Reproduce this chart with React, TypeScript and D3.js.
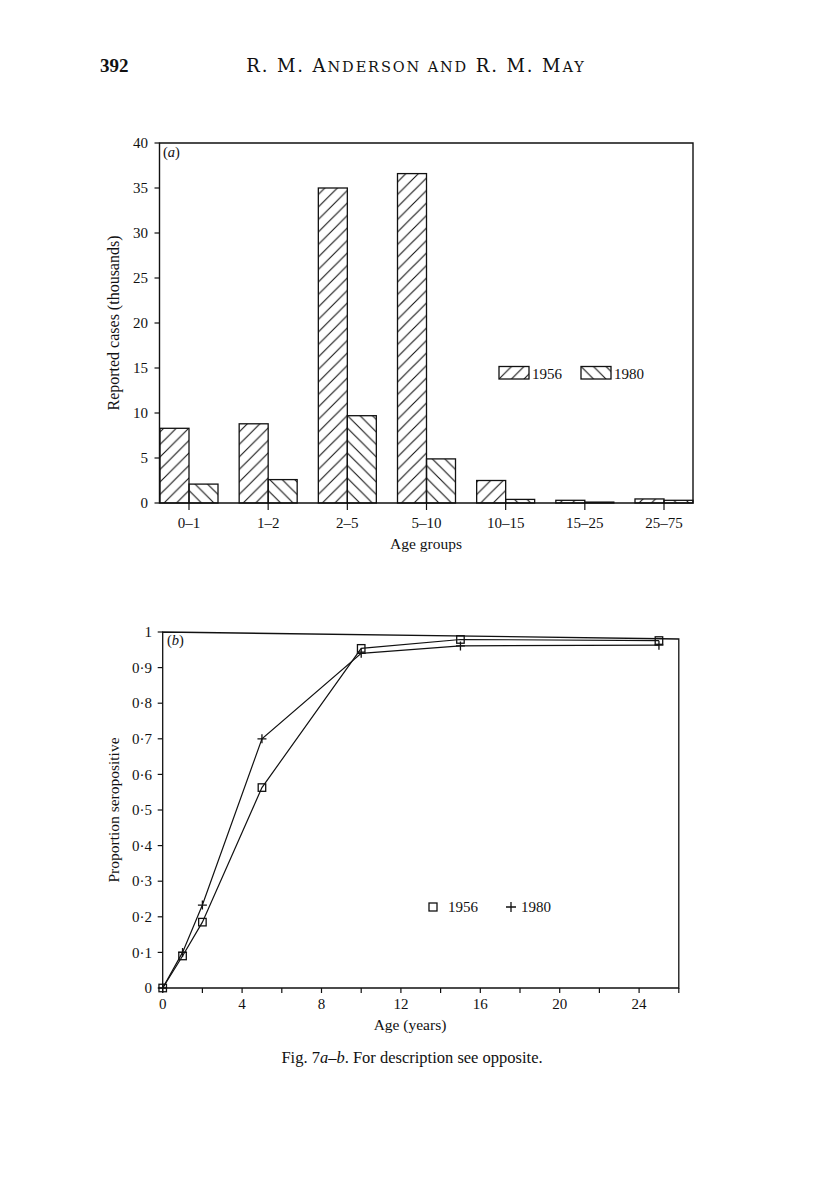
import React from "react";
import * as d3 from "d3";

// ---- Data: panel (a) ----
const ageGroups = ["0\u20131", "1\u20132", "2\u20135", "5\u201310", "10\u201315", "15\u201325", "25\u201375"];
const cases1956 = [8.3, 8.8, 35.0, 36.6, 2.5, 0.3, 0.45];
const cases1980 = [2.1, 2.6, 9.7, 4.9, 0.4, 0.1, 0.3];
const yTicksA = [0, 5, 10, 15, 20, 25, 30, 35, 40];

// ---- Data: panel (b) ----
const ages = [0, 1, 2, 5, 10, 15, 25];
const sero1956 = [0, 0.09, 0.185, 0.563, 0.954, 0.979, 0.976];
const sero1980 = [0, 0.1, 0.233, 0.7, 0.94, 0.961, 0.963];
const yTicksB = [0, 0.1, 0.2, 0.3, 0.4, 0.5, 0.6, 0.7, 0.8, 0.9, 1];
const xTicksB = [0, 2, 4, 6, 8, 10, 12, 14, 16, 18, 20, 22, 24, 26];
const xLabelsB = [0, 4, 8, 12, 16, 20, 24];

const FONT = "'Liberation Serif', 'DejaVu Serif', serif";
const HEAD_FONT = "'DejaVu Serif', 'Liberation Serif', serif";

export default function App() {
  // Panel (a) scales
  const barW = 29;
  const xA = d3.scalePoint<string>().domain(ageGroups).range([189, 664]);
  const yA = d3.scaleLinear().domain([0, 40]).range([503, 143]);
  const leftA = (xA(ageGroups[0]) as number) - barW - 0.5;
  const rightA = (xA(ageGroups[ageGroups.length - 1]) as number) + barW;

  // Panel (b) scales
  const xB = d3.scaleLinear().domain([0, 26]).range([162.7, 678.8]);
  const yB = d3.scaleLinear().domain([0, 1]).range([988, 632]);
  const line = d3
    .line<number>()
    .x((_, i) => xB(ages[i]))
    .y((d) => yB(d));

  const hatch = 12.5;
  const fmtB = (v: number) => (v === 0 ? "0" : v === 1 ? "1" : d3.format(".1f")(v).replace(".", "\u00b7"));

  const sq = 7.5;
  const pl = 4.5;
  const TK = 15;
  const LB = 15.5;

  const slash = `M-1,1 L1,-1 M0,${hatch} L${hatch},0 M${hatch - 1},${hatch + 1} L${hatch + 1},${hatch - 1}`;
  const back = `M0,0 L${hatch},${hatch} M-1,${hatch - 1} L1,${hatch + 1} M${hatch - 1},-1 L${hatch + 1},1`;

  return (
    <svg
      width={816}
      height={1191}
      style={{ position: "absolute", left: 0, top: 0, background: "#fff" }}
      fontFamily={FONT}
    >
      <rect x={0} y={0} width={816} height={1191} fill="#fff" />
      <defs>
        {ageGroups.map((g, i) => {
          const c = xA(g) as number;
          const y0 = yA(0);
          return (
            <React.Fragment key={g}>
              <pattern id={`p56-${i}`} width={hatch} height={hatch} patternUnits="userSpaceOnUse" patternTransform={`translate(${c},${y0})`}>
                <path d={slash} stroke="#111" strokeWidth={1.1} />
              </pattern>
              <pattern id={`p80-${i}`} width={hatch} height={hatch} patternUnits="userSpaceOnUse" patternTransform={`translate(${c},${y0})`}>
                <path d={back} stroke="#111" strokeWidth={1.1} />
              </pattern>
            </React.Fragment>
          );
        })}
        <pattern id="leg56" width={hatch} height={hatch} patternUnits="userSpaceOnUse" patternTransform="translate(499,379)">
          <path d={slash} stroke="#111" strokeWidth={1.1} />
        </pattern>
        <pattern id="leg80" width={hatch} height={hatch} patternUnits="userSpaceOnUse" patternTransform="translate(581,379)">
          <path d={back} stroke="#111" strokeWidth={1.1} />
        </pattern>
      </defs>

      {/* Header */}
      <text x={100} y={72} fontSize={19} fontWeight="bold" fill="#111">392</text>
      <text x={416} y={72} fontSize={18} textAnchor="middle" fill="#111" fontFamily={HEAD_FONT} letterSpacing={1.9}>
        R. M. A<tspan fontSize={14.5}>NDERSON AND</tspan> R. M. M<tspan fontSize={14.5}>AY</tspan>
      </text>

      {/* ===== Panel (a) ===== */}
      <g>
        {ageGroups.map((g, i) => {
          const c = xA(g) as number;
          return (
            <g key={g}>
              <rect
                x={c - barW}
                y={yA(cases1956[i])}
                width={barW}
                height={yA(0) - yA(cases1956[i])}
                fill={`url(#p56-${i})`}
                stroke="#111"
                strokeWidth={1.3}
              />
              <rect
                x={c}
                y={yA(cases1980[i])}
                width={barW}
                height={yA(0) - yA(cases1980[i])}
                fill={`url(#p80-${i})`}
                stroke="#111"
                strokeWidth={1.3}
              />
            </g>
          );
        })}
        <path
          d={`M${leftA},${yA(0)} L${leftA},${yA(40)} L${rightA},${yA(40)} L${rightA},${yA(0)} Z`}
          fill="none"
          stroke="#111"
          strokeWidth={1.4}
        />
        {yTicksA.map((t) => (
          <g key={t}>
            <line x1={leftA - 5} x2={leftA} y1={yA(t)} y2={yA(t)} stroke="#111" strokeWidth={1.2} />
            <text x={148} y={yA(t)} dy="0.35em" fontSize={TK} textAnchor="end" fill="#111">
              {t}
            </text>
          </g>
        ))}
        {ageGroups.map((g) => (
          <g key={g}>
            <line x1={xA(g)} x2={xA(g)} y1={yA(0)} y2={yA(0) + 7} stroke="#111" strokeWidth={1.2} />
            <text x={xA(g)} y={527.5} fontSize={TK} textAnchor="middle" fill="#111">
              {g}
            </text>
          </g>
        ))}
        <text x={426} y={548.5} fontSize={LB} textAnchor="middle" fill="#111">Age groups</text>
        <text
          transform={`translate(119,${(yA(0) + yA(40)) / 2}) rotate(-90)`}
          fontSize={16}
          textAnchor="middle"
          fill="#111"
        >
          Reported cases (thousands)
        </text>
        <text x={163} y={157} fontSize={14.5} fill="#111">
          (<tspan fontStyle="italic">a</tspan>)
        </text>
        <rect x={499} y={366.5} width={30} height={12.5} fill="url(#leg56)" stroke="#111" strokeWidth={1.3} />
        <text x={532} y={378.5} fontSize={TK} fill="#111">1956</text>
        <rect x={581} y={366.5} width={30} height={12.5} fill="url(#leg80)" stroke="#111" strokeWidth={1.3} />
        <text x={614} y={378.5} fontSize={TK} fill="#111">1980</text>
      </g>

      {/* ===== Panel (b) ===== */}
      <g>
        <path
          d={`M${xB(0)},${yB(0)} L${xB(0)},${yB(1)} L${xB(26)},${yB(1) + 7} L${xB(26)},${yB(0)} Z`}
          fill="none"
          stroke="#111"
          strokeWidth={1.3}
        />
        {yTicksB.map((t) => (
          <g key={t}>
            <line x1={xB(0) - 5} x2={xB(0)} y1={yB(t)} y2={yB(t)} stroke="#111" strokeWidth={1.2} />
            <text x={152} y={yB(t)} dy="0.35em" fontSize={TK} textAnchor="end" fill="#111">
              {fmtB(t)}
            </text>
          </g>
        ))}
        {xTicksB.map((t) => (
          <line key={t} x1={xB(t)} x2={xB(t)} y1={yB(0)} y2={yB(0) + 5} stroke="#111" strokeWidth={1.2} />
        ))}
        {xLabelsB.map((t) => (
          <text key={t} x={xB(t)} y={1009} fontSize={TK} textAnchor="middle" fill="#111">
            {t}
          </text>
        ))}
        <text x={410} y={1030} fontSize={LB} textAnchor="middle" fill="#111">Age (years)</text>
        <text
          transform={`translate(119,${(yB(0) + yB(1)) / 2}) rotate(-90)`}
          fontSize={15.5}
          textAnchor="middle"
          fill="#111"
        >
          Proportion seropositive
        </text>
        <text x={167} y={645} fontSize={14.5} fill="#111">
          (<tspan fontStyle="italic">b</tspan>)
        </text>

        <path d={line(sero1956) || ""} fill="none" stroke="#111" strokeWidth={1.2} />
        <path d={line(sero1980) || ""} fill="none" stroke="#111" strokeWidth={1.2} />
        {sero1956.map((v, i) => (
          <rect
            key={`s${i}`}
            x={xB(ages[i]) - sq / 2}
            y={yB(v) - sq / 2}
            width={sq}
            height={sq}
            fill="none"
            stroke="#111"
            strokeWidth={1.3}
          />
        ))}
        {sero1980.map((v, i) => (
          <path
            key={`p${i}`}
            d={`M${xB(ages[i]) - pl},${yB(v)} H${xB(ages[i]) + pl} M${xB(ages[i])},${yB(v) - pl} V${yB(v) + pl}`}
            stroke="#111"
            strokeWidth={1.3}
          />
        ))}
        <rect x={429} y={903} width={8} height={8} fill="none" stroke="#111" strokeWidth={1.3} />
        <text x={448} y={912} fontSize={TK} fill="#111">1956</text>
        <path d="M506,907 H516 M511,902 V912" stroke="#111" strokeWidth={1.3} />
        <text x={521} y={912} fontSize={TK} fill="#111">1980</text>
      </g>

      {/* Caption */}
      <text x={412} y={1063} fontSize={16.5} textAnchor="middle" fill="#111">
        Fig. 7<tspan fontStyle="italic">a–b</tspan>. For description see opposite.
      </text>
    </svg>
  );
}
